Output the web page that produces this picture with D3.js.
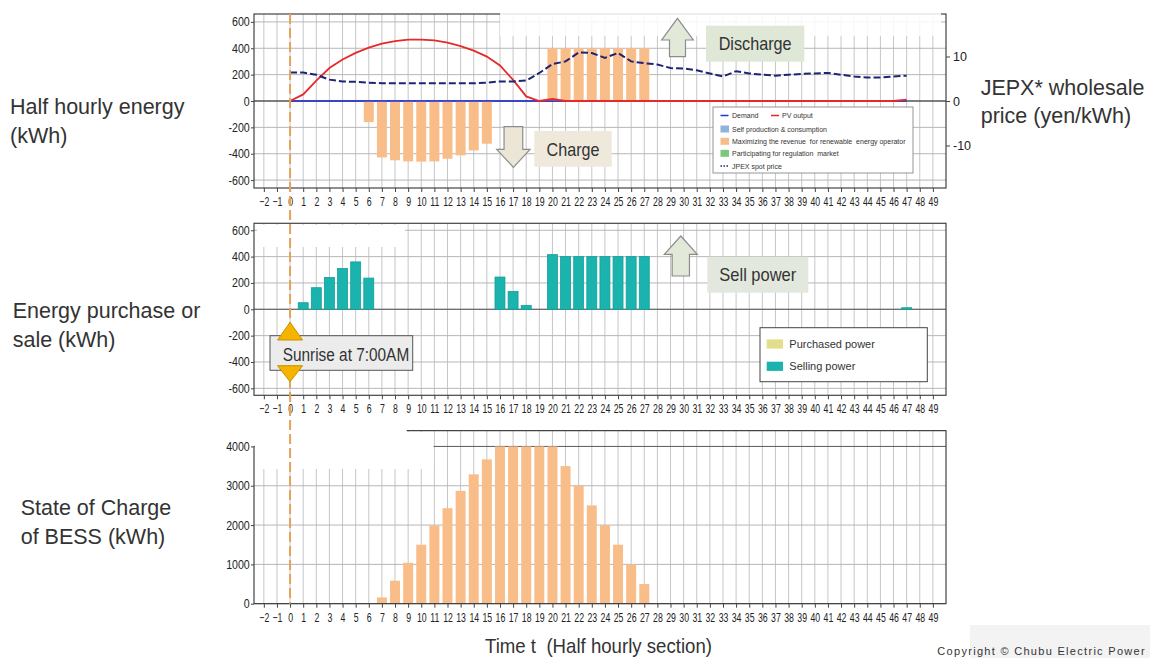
<!DOCTYPE html>
<html>
<head>
<meta charset="utf-8">
<script src="https://cdn.jsdelivr.net/npm/d3@7"></script>
<style>
  html, body { margin: 0; padding: 0; background: #fff; }
  svg { display: block; font-family: "Liberation Sans", Arial, sans-serif; }
  .tick text { font-family: "Liberation Sans", Arial, sans-serif; fill: #222; }
</style>
</head>
<body>
<svg id="chart" width="1150" height="658"></svg>
<script>
// ---------- data (half-hour slots t = 0 … 47) ----------
const slots = d3.range(0, 48);
const slotTicks = d3.range(-2, 50);
const energyTicks = [-600, -400, -200, 0, 200, 400, 600];
const priceTicks = [-10, 0, 10];
const socTicks = [0, 1000, 2000, 3000, 4000];

// PV output (kWh per half hour)
const pvOutput = [0, 50, 155, 250, 315, 365, 405, 435, 455, 465, 465, 460, 443, 417, 382, 337,
  270, 160, 35, 0, 15, 0, 0, 0, 0, 0, 0, 0, 0, 0, 0, 0,
  0, 0, 0, 0, 0, 0, 0, 0, 0, 0, 0, 0, 0, 0, 0, 10];
// Demand (kWh per half hour)
const demand = [0, 0, 0, 0, 0, 0, 0, 0, 0, 0, 0, 0, 0, 0, 0, 0,
  0, 0, 0, 0, 0, 0, 0, 0, 0, 0, 0, 0, 0, 0, 0, 0,
  0, 0, 0, 0, 0, 0, 0, 0, 0, 0, 0, 0, 0, 0, 0, 0];
// JEPX spot price (yen/kWh)
const spotPrice = [6.4, 6.4, 5.9, 4.8, 4.4, 4.3, 4.1, 4.0, 4.0, 4.0, 4.0, 4.0, 4.0, 4.0, 4.0, 4.1,
  4.4, 4.4, 4.6, 6.3, 8.3, 8.9, 10.9, 10.8, 9.7, 10.8, 8.9, 8.5, 8.2, 7.4, 7.3, 6.9,
  6.2, 5.5, 6.7, 6.2, 5.9, 5.7, 5.9, 6.1, 6.2, 6.3, 5.9, 5.5, 5.3, 5.3, 5.5, 5.7];
// BESS charge (-) / discharge (+) for revenue maximisation (kWh)
const bessRevenue = [0, 0, 0, 0, 0, 0, -160, -428, -450, -458, -460, -458, -438, -412, -375, -324,
  0, 0, 0, 0, 400, 400, 400, 400, 400, 400, 400, 400, 0, 0, 0, 0,
  0, 0, 0, 0, 0, 0, 0, 0, 0, 0, 0, 0, 0, 0, 0, 0];
// Grid trade (kWh)
const sellingPower = [0, 50, 164, 242, 310, 360, 237, 0, 0, 0, 0, 0, 0, 0, 0, 0,
  245, 136, 30, 0, 415, 400, 400, 400, 400, 400, 400, 400, 0, 0, 0, 0,
  0, 0, 0, 0, 0, 0, 0, 0, 0, 0, 0, 0, 0, 0, 0, 12];
const purchasedPower = [0, 0, 0, 0, 0, 0, 0, 0, 0, 0, 0, 0, 0, 0, 0, 0,
  0, 0, 0, 0, 0, 0, 0, 0, 0, 0, 0, 0, 0, 0, 0, 0,
  0, 0, 0, 0, 0, 0, 0, 0, 0, 0, 0, 0, 0, 0, 0, 0];
// State of charge of the battery (kWh)
const stateOfCharge = [0, 0, 0, 0, 0, 0, 0, 160, 585, 1040, 1500, 1990, 2430, 2870, 3290, 3670,
  4000, 4000, 4000, 4000, 4000, 3500, 3000, 2500, 2000, 1500, 1000, 500, 0, 0, 0, 0,
  0, 0, 0, 0, 0, 0, 0, 0, 0, 0, 0, 0, 0, 0, 0, 0];

// ---------- colours ----------
const C = {
  grid: "#c6c6c6", hgrid: "#b6b6b6", spine: "#444",
  orange: "#f8bd88", teal: "#1ab3ae", tealEdge: "#12a09a", khaki: "#e3de8a",
  selfProd: "#8fb3d9", regulation: "#7dc67d",
  pv: "#e62a2a", demand: "#2233dd", price: "#1d2474", sunrise: "#e3a35a",
  text: "#333"
};

const svg = d3.select("#chart");
const x = d3.scaleLinear().domain([-2.75, 50]).range([254, 946]);
const barHalf = 0.38;

const yEnergy = d3.scaleLinear().domain([-660, 660]).range([188, 14]);
const yPrice = d3.scaleLinear().domain([-19.55, 19.55]).range([188, 14]);
const yTrade = d3.scaleLinear().domain([-653, 653]).range([395.3, 223.3]);
const ySoc = d3.scaleLinear().domain([0, 4400]).range([603.7, 430.7]);

const [xL, xR] = x.range();

// tick labels use a condensed face: regular glyphs squeezed horizontally
function styleTicks(g, squeeze) {
  g.attr("font-size", null).attr("font-family", null);
  g.select(".domain").remove();
  g.selectAll(".tick line").attr("stroke", C.spine);
  g.selectAll(".tick text").style("font-size", "12.5px")
    .attr("transform", `scale(${squeeze},1)`);
}

function grid(g, y, yVals, hColor) {
  const [yB, yT] = y.range();
  g.append("g").selectAll("line").data(slotTicks).join("line")
    .attr("x1", d => x(d)).attr("x2", d => x(d))
    .attr("y1", yT).attr("y2", yB)
    .attr("stroke", C.grid).attr("stroke-width", 1);
  g.append("g").selectAll("line").data(yVals).join("line")
    .attr("x1", xL).attr("x2", xR)
    .attr("y1", d => y(d)).attr("y2", d => y(d))
    .attr("stroke", typeof hColor === "function" ? hColor : () => hColor).attr("stroke-width", 1);
}

function xAxis(g, yPos) {
  g.attr("transform", `translate(0,${yPos})`)
    .call(d3.axisBottom(x).tickValues(slotTicks).tickFormat(d3.format("d")).tickSize(4).tickPadding(5));
  styleTicks(g, 0.7);
}

function yAxisLeft(g, y, vals) {
  g.attr("transform", `translate(${xL},0)`)
    .call(d3.axisLeft(y).tickValues(vals).tickFormat(d => String(d)).tickSize(3).tickPadding(2));
  styleTicks(g, 0.85);
}

function bars(g, y, values, fill, stroke) {
  g.append("g").selectAll("rect")
    .data(slots.filter(t => values[t] !== 0))
    .join("rect")
    .attr("x", t => x(t - barHalf))
    .attr("width", t => x(t + barHalf) - x(t - barHalf))
    .attr("y", t => Math.min(y(values[t]), y(0)))
    .attr("height", t => Math.abs(y(values[t]) - y(0)))
    .attr("fill", fill)
    .attr("stroke", stroke || "none")
    .attr("stroke-width", stroke ? 0.8 : 0);
}

function blockArrow(cx, tipY, endY, headW, shaftW, headLen) {
  const dir = endY > tipY ? 1 : -1;
  const hb = tipY + dir * headLen;
  return `M${cx},${tipY} L${cx + headW / 2},${hb} L${cx + shaftW / 2},${hb} L${cx + shaftW / 2},${endY}` +
    ` L${cx - shaftW / 2},${endY} L${cx - shaftW / 2},${hb} L${cx - headW / 2},${hb} Z`;
}

function calloutBox(g, x0, y0, w, h, fill, label, fontSize, len) {
  g.append("rect").attr("x", x0).attr("y", y0).attr("width", w).attr("height", h).attr("fill", fill);
  g.append("text").attr("x", x0 + w / 2).attr("y", y0 + h / 2 + fontSize * 0.36)
    .attr("text-anchor", "middle").attr("fill", C.text)
    .style("font-size", fontSize + "px")
    .attr("textLength", len).attr("lengthAdjust", "spacingAndGlyphs")
    .text(label);
}

// ================= Panel 1: half-hourly energy =================
const p1 = svg.append("g");
grid(p1, yEnergy, energyTicks, C.hgrid);
p1.append("line").attr("x1", xL).attr("x2", xR).attr("y1", yEnergy(0)).attr("y2", yEnergy(0))
  .attr("stroke", "#222").attr("stroke-width", 1.2);
bars(p1, yEnergy, bessRevenue, C.orange);

p1.append("path").datum(slots)
  .attr("d", d3.line().x(t => x(t)).y(t => yEnergy(demand[t])))
  .attr("fill", "none").attr("stroke", C.demand).attr("stroke-width", 1.6);
p1.append("path").datum(slots)
  .attr("d", d3.line().x(t => x(t)).y(t => yEnergy(pvOutput[t])))
  .attr("fill", "none").attr("stroke", C.pv).attr("stroke-width", 1.8);
p1.append("path").datum(slots)
  .attr("d", d3.line().x(t => x(t)).y(t => yPrice(spotPrice[t])))
  .attr("fill", "none").attr("stroke", C.price).attr("stroke-width", 2)
  .attr("stroke-dasharray", "7,3");

p1.append("rect").attr("x", xL).attr("y", yEnergy.range()[1])
  .attr("width", xR - xL).attr("height", yEnergy.range()[0] - yEnergy.range()[1])
  .attr("fill", "none").attr("stroke", C.spine).attr("stroke-width", 1.2);
// faded strip along the upper edge
p1.append("rect").attr("x", 500).attr("y", 9).attr("width", 441).attr("height", 27)
  .attr("fill", "#fff").attr("opacity", 0.85);

p1.append("g").call(g => yAxisLeft(g, yEnergy, energyTicks));
p1.append("g").attr("transform", `translate(${xR},0)`)
  .call(d3.axisRight(yPrice).tickValues(priceTicks).tickFormat(d => String(d)).tickSize(4).tickPadding(3))
  .call(g => styleTicks(g, 0.85))
  .call(g => g.selectAll(".tick text").attr("transform", null).attr("x", 7).attr("textLength", null));
p1.append("g").call(g => xAxis(g, yEnergy.range()[0]));

// legend
const lg1 = p1.append("g").style("font-size", "7px").attr("fill", C.text);
lg1.append("rect").attr("x", 713).attr("y", 107).attr("width", 200).attr("height", 66)
  .attr("fill", "#fff").attr("stroke", "#8a8a8a").attr("stroke-width", 0.9);
lg1.append("line").attr("x1", 720.5).attr("x2", 728.5).attr("y1", 115.5).attr("y2", 115.5)
  .attr("stroke", C.demand).attr("stroke-width", 1.5);
lg1.append("text").attr("x", 732).attr("y", 118).text("Demand");
lg1.append("line").attr("x1", 771).attr("x2", 779).attr("y1", 115.5).attr("y2", 115.5)
  .attr("stroke", C.pv).attr("stroke-width", 1.5);
lg1.append("text").attr("x", 782).attr("y", 118).text("PV output");
const legendSquares = [
  { label: "Self production & consumption", color: C.selfProd, y: 129 },
  { label: "Maximizing the revenue  for renewable  energy operator", color: C.orange, y: 141.3 },
  { label: "Participating for regulation  market", color: C.regulation, y: 153.3 }
];
legendSquares.forEach(d => {
  lg1.append("rect").attr("x", 720.5).attr("y", d.y - 3.5).attr("width", 8.5).attr("height", 7).attr("fill", d.color);
  lg1.append("text").attr("x", 732).attr("y", d.y + 2.5).style("white-space", "pre").text(d.label);
});
lg1.append("line").attr("x1", 720.5).attr("x2", 728.5).attr("y1", 166).attr("y2", 166)
  .attr("stroke", C.price).attr("stroke-width", 1.3).attr("stroke-dasharray", "1.5,1.5");
lg1.append("text").attr("x", 732).attr("y", 168.5).text("JPEX spot price");

// annotations
p1.append("path").attr("d", blockArrow(677.5, 18.3, 56.7, 31.6, 16, 21.7))
  .attr("fill", "#e2e9d9").attr("stroke", "#8c8c8c").attr("stroke-width", 1.2);
calloutBox(p1, 706, 25.7, 98.3, 36, "#dfe7d6", "Discharge", 18.5, 73);
p1.append("path").attr("d", blockArrow(513.4, 167.3, 126.7, 33.3, 18.7, 18))
  .attr("fill", "#ece6d6").attr("stroke", "#8c8c8c").attr("stroke-width", 1.2);
calloutBox(p1, 534.3, 131, 77.4, 35.7, "#efe9dc", "Charge", 18.5, 53);

// ================= Panel 2: energy purchase / sale =================
const p2 = svg.append("g");
grid(p2, yTrade, energyTicks, C.hgrid);
p2.append("line").attr("x1", xL).attr("x2", xR).attr("y1", yTrade(0)).attr("y2", yTrade(0))
  .attr("stroke", "#555").attr("stroke-width", 1.1);
bars(p2, yTrade, purchasedPower, C.khaki);
bars(p2, yTrade, sellingPower, C.teal, C.tealEdge);
p2.append("rect").attr("x", xL).attr("y", yTrade.range()[1])
  .attr("width", xR - xL).attr("height", yTrade.range()[0] - yTrade.range()[1])
  .attr("fill", "none").attr("stroke", C.spine).attr("stroke-width", 1.2);
p2.append("rect").attr("x", 257).attr("y", 225).attr("width", 148).attr("height", 22).attr("fill", "#fff");
p2.append("g").call(g => yAxisLeft(g, yTrade, energyTicks));
p2.append("g").call(g => xAxis(g, yTrade.range()[0]));

const lg2 = p2.append("g").style("font-size", "11px").attr("fill", C.text);
lg2.append("rect").attr("x", 760).attr("y", 327.7).attr("width", 167.3).attr("height", 54)
  .attr("fill", "#fff").attr("stroke", "#444").attr("stroke-width", 1);
[{ label: "Purchased power", color: C.khaki, y: 344 }, { label: "Selling power", color: C.teal, y: 366.3 }]
  .forEach(d => {
    lg2.append("rect").attr("x", 766.7).attr("y", d.y - 4.6).attr("width", 16.3).attr("height", 9.2).attr("fill", d.color);
    lg2.append("text").attr("x", 789.3).attr("y", d.y + 4).text(d.label);
  });

p2.append("path").attr("d", blockArrow(680.8, 236, 276, 33, 17.3, 18.3))
  .attr("fill", "#e2e9d9").attr("stroke", "#8c8c8c").attr("stroke-width", 1.2);
calloutBox(p2, 707.3, 256.7, 101, 36, "#e3e8de", "Sell power", 18.5, 77);

// ================= Panel 3: state of charge =================
const p3 = svg.append("g");
grid(p3, ySoc, socTicks, d => d === 4000 ? "#5a5a5a" : C.hgrid);
p3.append("rect").attr("x", 255).attr("y", 424).attr("width", 151.5).attr("height", 45).attr("fill", "#fff");
p3.append("rect").attr("x", 406).attr("y", 432).attr("width", 27.5).attr("height", 37).attr("fill", "#fff");
bars(p3, ySoc, stateOfCharge, C.orange);
p3.append("path")
  .attr("d", `M406.7,${ySoc.range()[1]} H${xR} V${ySoc(0)} H${xL} V${ySoc(4000)}`)
  .attr("fill", "none").attr("stroke", C.spine).attr("stroke-width", 1.2);
p3.append("g").call(g => yAxisLeft(g, ySoc, socTicks));
p3.append("g").call(g => xAxis(g, ySoc.range()[0]));

// ================= sunrise marker =================
svg.append("line").attr("x1", x(0)).attr("x2", x(0)).attr("y1", 14).attr("y2", ySoc(0))
  .attr("stroke", C.sunrise).attr("stroke-width", 2).attr("stroke-dasharray", "10,4");
const sr = svg.append("g");
sr.append("rect").attr("x", 270).attr("y", 335.7).attr("width", 142.7).attr("height", 34.6)
  .attr("fill", "#ececec").attr("stroke", "#555").attr("stroke-width", 1);
sr.append("text").attr("x", 282.7).attr("y", 360.5).attr("fill", C.text)
  .style("font-size", "17.5px").attr("textLength", 126.5).attr("lengthAdjust", "spacingAndGlyphs")
  .text("Sunrise at 7:00AM");
const tri = (apexY, baseY) => `M${x(0)},${apexY} L${x(0) + 12.5},${baseY} L${x(0) - 12.5},${baseY} Z`;
sr.append("path").attr("d", tri(322.3, 340)).attr("fill", "#f5b400").attr("stroke", "#c98f00").attr("stroke-width", 1);
sr.append("path").attr("d", tri(381.7, 365.7)).attr("fill", "#f5b400").attr("stroke", "#c98f00").attr("stroke-width", 1);

// ================= side labels =================
const labels = svg.append("g").attr("fill", C.text).style("font-size", "21.5px");
[
  { t: "Half hourly energy", x: 10, y: 114 }, { t: "(kWh)", x: 10, y: 143 },
  { t: "Energy purchase or", x: 12.7, y: 317.7 }, { t: "sale (kWh)", x: 12.7, y: 346.7 },
  { t: "State of Charge", x: 20.7, y: 515 }, { t: "of BESS (kWh)", x: 20.7, y: 544 },
  { t: "JEPX* wholesale", x: 980.7, y: 94.5 }, { t: "price (yen/kWh)", x: 980.7, y: 123 }
].forEach(d => labels.append("text").attr("x", d.x).attr("y", d.y).text(d.t));

svg.append("text").attr("x", 485).attr("y", 653).attr("fill", C.text)
  .style("font-size", "21px").style("white-space", "pre")
  .attr("textLength", 227).attr("lengthAdjust", "spacingAndGlyphs")
  .text("Time t  (Half hourly section)");

svg.append("rect").attr("x", 970).attr("y", 625).attr("width", 180).attr("height", 33).attr("fill", "#f3f3f3");
svg.append("text").attr("x", 937.3).attr("y", 655).attr("fill", C.text)
  .style("font-size", "11px").style("letter-spacing", "1.3px")
  .text("Copyright © Chubu Electric Power");
</script>
</body>
</html>
